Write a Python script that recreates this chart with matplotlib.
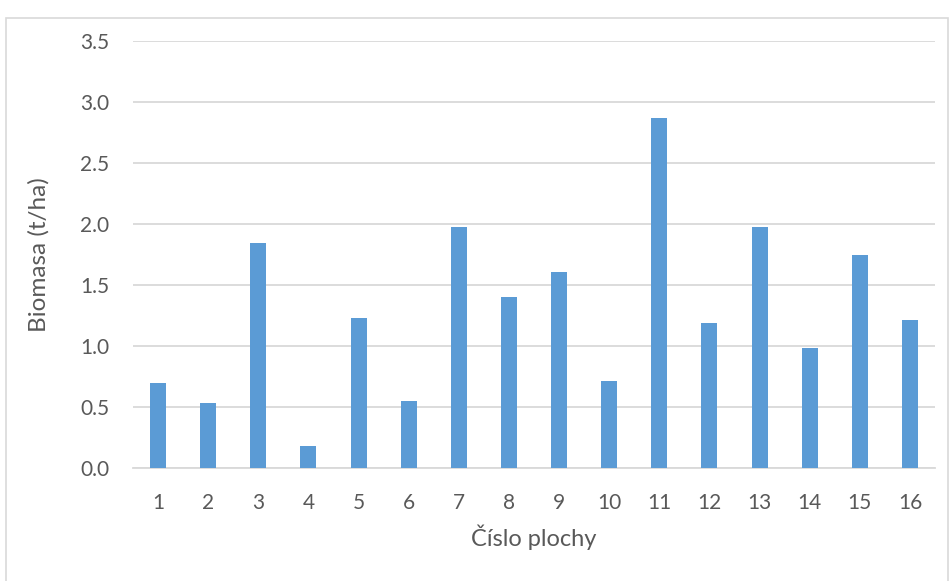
import numpy as np
import matplotlib.pyplot as plt
from matplotlib.patches import Rectangle

# Data
plots = [str(i) for i in range(1, 17)]
biomass = [0.70, 0.53, 1.845, 0.18, 1.23, 0.55, 1.975, 1.40,
           1.605, 0.715, 2.87, 1.19, 1.975, 0.98, 1.745, 1.21]
yticks = [0.0, 0.5, 1.0, 1.5, 2.0, 2.5, 3.0, 3.5]

plt.rcParams['font.family'] = ['Lato', 'DejaVu Sans']

fig = plt.figure(figsize=(9.51, 5.81), dpi=100)
ax = fig.add_axes([133 / 951, 113 / 581, 802 / 951, 427 / 581])

# outer chart frame like Excel
fig.patches.append(Rectangle((6 / 951, -0.01), 942 / 951, 569 / 581,
                             transform=fig.transFigure, fill=False,
                             edgecolor="#D9D9D9", linewidth=1.2))

x = np.arange(1, len(plots) + 1)
ax.bar(x, biomass, width=0.32, color="#5B9BD5", zorder=3)

ax.set_xlim(0.5, len(plots) + 0.5)
ax.set_ylim(0, 3.5)
ax.set_xticks(x)
ax.set_xticklabels(plots)
ax.set_yticks(yticks)
ax.set_yticklabels([f"{v:.1f}" for v in yticks])

ax.grid(axis="y", color="#D9D9D9", linewidth=1.3, zorder=0)
for s in ["top", "right", "left"]:
    ax.spines[s].set_visible(False)
ax.spines["bottom"].set_color("#D9D9D9")
ax.spines["bottom"].set_linewidth(1.3)
ax.tick_params(axis="both", length=0, labelsize=15, colors="#595959")
ax.tick_params(axis="x", pad=18)
ax.tick_params(axis="y", pad=17)

ax.set_xlabel("Číslo plochy", fontsize=17, color="#595959", labelpad=8)
ax.set_ylabel("Biomasa (t/ha)", fontsize=17.5, color="#595959", labelpad=22)

fig.savefig("out.png", dpi=100)
